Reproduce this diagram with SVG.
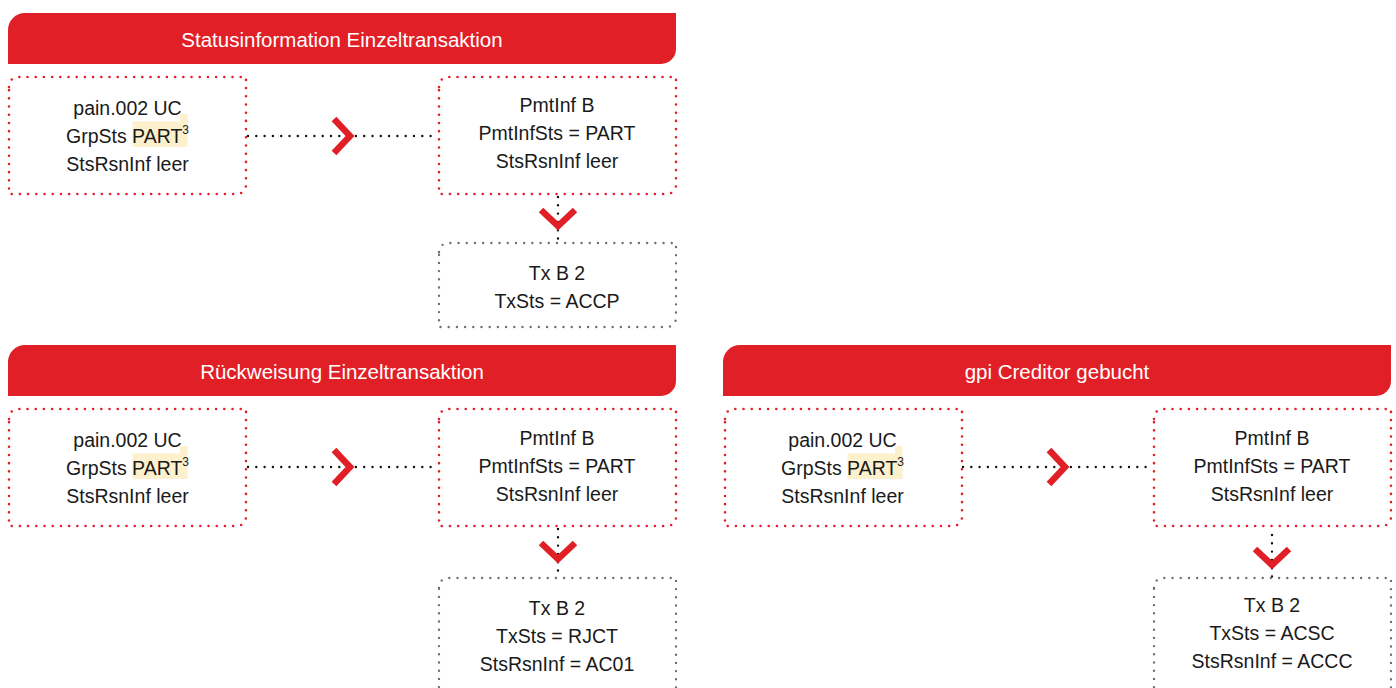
<svg xmlns="http://www.w3.org/2000/svg" width="1396" height="688" viewBox="0 0 1396 688">
<style>
.hdr{fill:#e11f27}
.ht{font-family:"Liberation Sans",Arial,sans-serif;font-size:20.5px;fill:#ffffff;text-anchor:middle}
.bx{fill:none;stroke:#e11f27;stroke-width:2.6;stroke-dasharray:0 8.2;stroke-linecap:round}
.gx{fill:none;stroke:#6f6f6f;stroke-width:2.4;stroke-dasharray:0 8.2;stroke-linecap:round}
.t{font-family:"Liberation Sans",Arial,sans-serif;font-size:19.5px;fill:#1a1a1a;text-anchor:middle}
.sup{font-size:12px}
.hl{fill:#fdf0cc}
.cn{fill:none;stroke:#111;stroke-width:2.4;stroke-dasharray:0 8.3;stroke-linecap:round}
.ch{fill:none;stroke:#e11f27;stroke-width:6.5;stroke-linejoin:miter}
</style>
<g id="connectors">
  <line class="cn" x1="248" y1="136" x2="437" y2="136"/>
  <polyline class="ch" points="334,119 350,136 334,153"/>
  <line class="cn" x1="558" y1="197" x2="558" y2="240"/>
  <polyline class="ch" points="541,210 558,226 575,210"/>

  <line class="cn" x1="248" y1="467" x2="437" y2="467"/>
  <polyline class="ch" points="334,450 350,467 334,484"/>
  <line class="cn" x1="558" y1="529" x2="558" y2="576"/>
  <polyline class="ch" points="541,543 558,559 575,543"/>

  <line class="cn" x1="963" y1="467" x2="1152" y2="467"/>
  <polyline class="ch" points="1049,450 1065,467 1049,484"/>
  <line class="cn" x1="1272" y1="535" x2="1272" y2="577"/>
  <polyline class="ch" points="1255,549 1272,565 1289,549"/>
</g>

<g id="section1">
  <g id="hdr1">
    <path class="hdr" d="M8,30 A17,17 0 0 1 25,13 H676 V49 A15,15 0 0 1 661,64 H8 Z"/>
    <text class="ht" x="342" y="47">Statusinformation Einzeltransaktion</text>
  </g>
  <g id="n1a">
    <path class="bx" d="M9,87 A9,9 0 0 1 18,77 H246 V185 A9,9 0 0 1 237,194 H9 Z"/>
    <rect class="hl" x="132.5" y="121.5" width="48" height="25.5"/>
    <rect class="hl" x="180" y="114" width="7.5" height="33"/>
    <text class="t" x="127.5" y="115">pain.002 UC</text>
    <text class="t" x="127.5" y="143">GrpSts PART<tspan class="sup" dy="-9">3</tspan></text>
    <text class="t" x="127.5" y="171">StsRsnInf leer</text>
  </g>
  <g id="n1b">
    <path class="bx" d="M439,87 A9,9 0 0 1 448,77 H676 V185 A9,9 0 0 1 667,194 H439 Z"/>
    <text class="t" x="557" y="112">PmtInf B</text>
    <text class="t" x="557" y="140">PmtInfSts = PART</text>
    <text class="t" x="557" y="168">StsRsnInf leer</text>
  </g>
  <g id="n1c">
    <path class="gx" d="M439,252 A9,9 0 0 1 448,243 H676 V318 A9,9 0 0 1 667,327 H439 Z"/>
    <text class="t" x="557" y="280">Tx B 2</text>
    <text class="t" x="557" y="308">TxSts = ACCP</text>
  </g>
</g>

<g id="section2">
  <g id="hdr2">
    <path class="hdr" d="M8,362 A17,17 0 0 1 25,345 H676 V381 A15,15 0 0 1 661,396 H8 Z"/>
    <text class="ht" x="342" y="379">Rückweisung Einzeltransaktion</text>
  </g>
  <g id="n2a">
    <path class="bx" d="M9,419 A9,9 0 0 1 18,409 H246 V517 A9,9 0 0 1 237,526 H9 Z"/>
    <rect class="hl" x="132.5" y="453.5" width="48" height="25.5"/>
    <rect class="hl" x="180" y="446" width="7.5" height="33"/>
    <text class="t" x="127.5" y="447">pain.002 UC</text>
    <text class="t" x="127.5" y="475">GrpSts PART<tspan class="sup" dy="-9">3</tspan></text>
    <text class="t" x="127.5" y="503">StsRsnInf leer</text>
  </g>
  <g id="n2b">
    <path class="bx" d="M439,419 A9,9 0 0 1 448,409 H676 V517 A9,9 0 0 1 667,526 H439 Z"/>
    <text class="t" x="557" y="445">PmtInf B</text>
    <text class="t" x="557" y="473">PmtInfSts = PART</text>
    <text class="t" x="557" y="501">StsRsnInf leer</text>
  </g>
  <g id="n2c">
    <path class="gx" d="M439,588 A9,9 0 0 1 448,578 H676 V700 H439 Z"/>
    <text class="t" x="557" y="615">Tx B 2</text>
    <text class="t" x="557" y="643">TxSts = RJCT</text>
    <text class="t" x="557" y="671">StsRsnInf = AC01</text>
  </g>
</g>

<g id="section3">
  <g id="hdr3">
    <path class="hdr" d="M723,362 A17,17 0 0 1 740,345 H1391 V381 A15,15 0 0 1 1376,396 H723 Z"/>
    <text class="ht" x="1057" y="379">gpi Creditor gebucht</text>
  </g>
  <g id="n3a">
    <path class="bx" d="M725,419 A9,9 0 0 1 734,409 H962 V517 A9,9 0 0 1 953,526 H725 Z"/>
    <rect class="hl" x="847.5" y="453.5" width="48" height="25.5"/>
    <rect class="hl" x="895" y="446" width="7.5" height="33"/>
    <text class="t" x="842.5" y="447">pain.002 UC</text>
    <text class="t" x="842.5" y="475">GrpSts PART<tspan class="sup" dy="-9">3</tspan></text>
    <text class="t" x="842.5" y="503">StsRsnInf leer</text>
  </g>
  <g id="n3b">
    <path class="bx" d="M1154,419 A9,9 0 0 1 1163,409 H1391 V517 A9,9 0 0 1 1382,526 H1154 Z"/>
    <text class="t" x="1272" y="445">PmtInf B</text>
    <text class="t" x="1272" y="473">PmtInfSts = PART</text>
    <text class="t" x="1272" y="501">StsRsnInf leer</text>
  </g>
  <g id="n3c">
    <path class="gx" d="M1154,588 A9,9 0 0 1 1163,578 H1391 V700 H1154 Z"/>
    <text class="t" x="1272" y="612">Tx B 2</text>
    <text class="t" x="1272" y="640">TxSts = ACSC</text>
    <text class="t" x="1272" y="668">StsRsnInf = ACCC</text>
  </g>
</g>
</svg>
